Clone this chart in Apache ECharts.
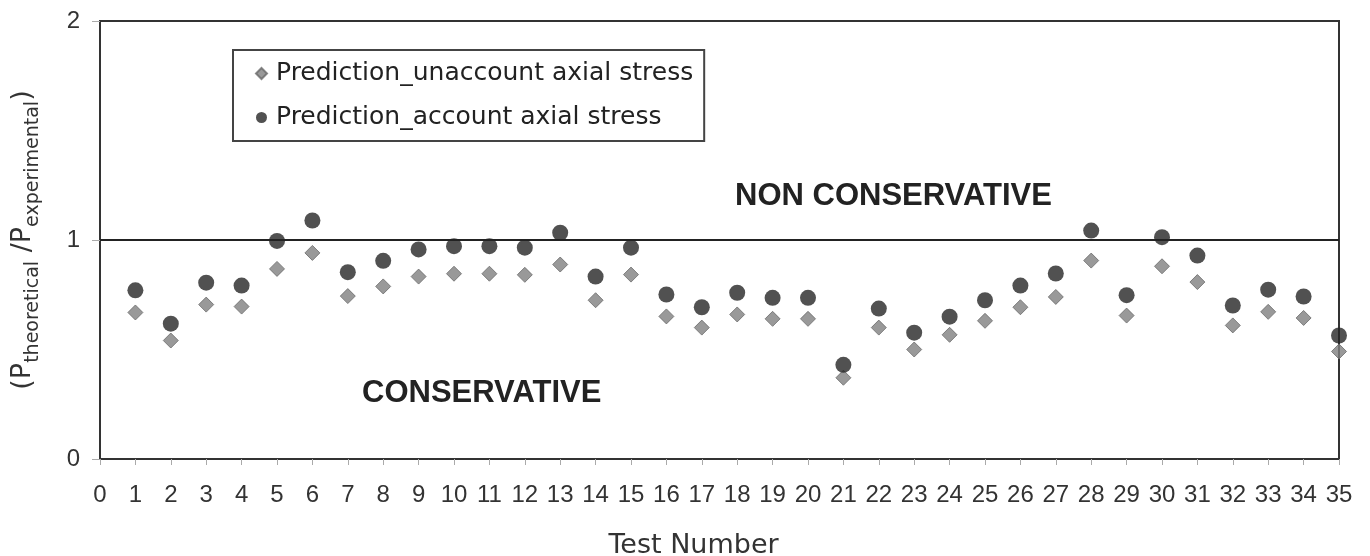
<!DOCTYPE html>
<html>
<head>
<meta charset="utf-8">
<script src="https://cdn.jsdelivr.net/npm/echarts@6/dist/echarts.min.js"></script>
<style>html,body{margin:0;padding:0;background:#fff}#c{width:1370px;height:556px}</style>
</head>
<body>
<div id="c"></div>
<script>
var testNumbers = [1,2,3,4,5,6,7,8,9,10,11,12,13,14,15,16,17,18,19,20,21,22,23,24,25,26,27,28,29,30,31,32,33,34,35];
var unaccount = [0.669,0.541,0.705,0.696,0.868,0.941,0.744,0.788,0.833,0.846,0.846,0.841,0.888,0.725,0.842,0.651,0.600,0.660,0.640,0.640,0.371,0.600,0.500,0.567,0.631,0.693,0.740,0.906,0.655,0.880,0.808,0.610,0.672,0.644,0.491];
var account = [0.770,0.618,0.805,0.792,0.996,1.089,0.853,0.905,0.957,0.972,0.972,0.965,1.033,0.833,0.965,0.751,0.693,0.759,0.736,0.736,0.430,0.687,0.577,0.650,0.725,0.792,0.847,1.043,0.748,1.013,0.929,0.701,0.773,0.742,0.564];
var referenceLine = 1;
var seriesNames = ['Prediction_unaccount axial stress','Prediction_account axial stress'];

function pairs(vals){ return testNumbers.map(function(t,i){ return [t, vals[i]]; }); }

var chart = echarts.init(document.getElementById('c'));
var sans = 'Liberation Sans, Arial, sans-serif';
var wide = 'DejaVu Sans, Liberation Sans, Arial, sans-serif';
chart.setOption({
  animation: false,
  grid: { left: 100, right: 31, top: 21, bottom: 97, show: true, borderColor: '#333', borderWidth: 2, backgroundColor: 'transparent', outerBoundsMode: 'none', containLabel: false },
  legend: {
    orient: 'vertical', left: 233, top: 50,
    borderColor: '#444', borderWidth: 2, borderRadius: 0,
    padding: [11, 11, 11, 22], itemGap: 19,
    itemWidth: 11, itemHeight: 11,
    textStyle: { fontFamily: wide, fontSize: 25, color: '#222', padding: [0, 0, 0, 4] },
    data: [
      { name: seriesNames[0], icon: 'diamond' },
      { name: seriesNames[1], icon: 'circle' }
    ]
  },
  xAxis: {
    type: 'value', min: 0, max: 35, interval: 1,
    axisLine: { lineStyle: { color: '#333', width: 2 } },
    axisTick: { show: true, length: 6, lineStyle: { color: '#aaa' } },
    splitLine: { show: false },
    axisLabel: { color: '#333', fontSize: 24, fontFamily: sans, margin: 24 },
    name: 'Test Number', nameLocation: 'middle', nameGap: 73,
    nameTextStyle: { fontFamily: wide, fontSize: 27, color: '#333', padding: [0, 52, 0, 0] }
  },
  yAxis: {
    type: 'value', min: 0, max: 2, interval: 1,
    axisLine: { lineStyle: { color: '#333', width: 2 } },
    axisTick: { show: true, length: 8, lineStyle: { color: '#aaa' } },
    splitLine: { show: false },
    axisLabel: { color: '#333', fontSize: 24, fontFamily: sans, margin: 20 },
    name: '{m|(P}{s|theoretical}{m| /P}{s|experimental}{m|)}',
    nameLocation: 'middle', nameGap: 64, nameRotate: 90,
    nameTextStyle: {
      rich: {
        m: { fontFamily: wide, fontSize: 27, color: '#333', verticalAlign: 'bottom', lineHeight: 32 },
        s: { fontFamily: wide, fontSize: 19, color: '#333', verticalAlign: 'bottom', lineHeight: 22, padding: [0,0,-7,0] }
      }
    }
  },
  series: [
    {
      name: seriesNames[0], type: 'scatter', symbol: 'diamond', symbolSize: [15, 15],
      itemStyle: { color: '#808080', borderColor: '#6a6a6a', borderWidth: 1 },
      data: pairs(unaccount), z: 3
    },
    {
      name: seriesNames[1], type: 'scatter', symbol: 'circle', symbolSize: 16,
      itemStyle: { color: '#262626' },
      data: pairs(account), z: 4,
      markLine: {
        silent: true, symbol: 'none', label: { show: false },
        lineStyle: { color: '#222', width: 2, type: 'solid' },
        data: [{ yAxis: referenceLine }]
      }
    }
  ],
  graphic: [
    { type: 'text', left: 735, top: 181, style: { text: 'NON CONSERVATIVE', font: 'bold 31px Liberation Sans, Arial, sans-serif', fill: '#222' } },
    { type: 'text', left: 362, top: 378, style: { text: 'CONSERVATIVE', font: 'bold 31px Liberation Sans, Arial, sans-serif', fill: '#222' } }
  ]
});
</script>
</body>
</html>
